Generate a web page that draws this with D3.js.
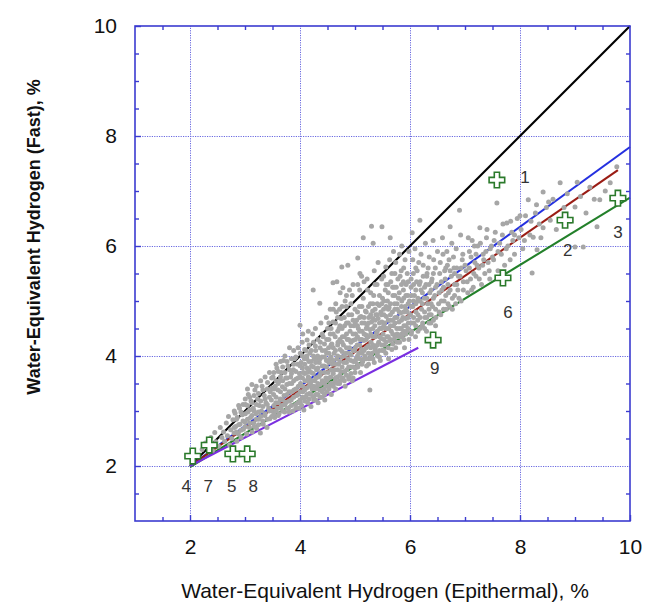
<!doctype html>
<html>
<head>
<meta charset="utf-8">
<script src="https://cdn.jsdelivr.net/npm/d3@7"></script>
<style>
  body { margin: 0; background: #fff; }
  text { font-family: "Liberation Sans", Arial, sans-serif; }
  .frame { fill: none; stroke: #3b3bd0; stroke-width: 1.6; }
  .grid line { stroke: #6a6ae0; stroke-width: 1; stroke-dasharray: 1.2,1.2; }
  .grid path { display: none; }
  .ax path { display: none; }
  .ax line { stroke: #3b3bd0; stroke-width: 1.4; }
  .ax text { font-size: 21px; fill: #111; }
</style>
</head>
<body>
<svg width="655" height="605"></svg>
<script>
// epithermal (x) vs fast (y) water-equivalent hydrogen, %
let majorTicks = [2, 4, 6, 8, 10]
let minorTicks = [1.5, 2.5, 3, 3.5, 4.5, 5, 5.5, 6.5, 7, 7.5, 8.5, 9, 9.5]
let gridTicks = [2, 4, 6, 8]

// grey cloud of measurements: spread / outer points
let cloudOuter = [
  [2.22,2.3],[2.28,2.42],[2.33,2.35],[2.38,2.52],[2.41,2.28],[2.45,2.61],[2.47,2.44],[2.52,2.36],[2.55,2.7],[2.58,2.52],
  [2.61,2.62],[2.63,2.45],[2.66,2.78],[2.68,2.55],[2.7,2.9],[2.72,2.38],[2.74,2.66],[2.76,2.5],[2.78,2.84],[2.8,2.6],
  [2.82,2.96],[2.83,2.72],[2.85,2.45],[2.86,2.88],[2.88,2.58],[2.9,3.05],[2.91,2.76],[2.93,2.52],[2.95,2.93],[2.97,2.67],
  [3.0,2.8],[3.01,3.12],[3.03,2.58],[3.05,2.98],[3.06,3.3],[3.08,2.7],[3.1,2.88],[3.11,3.18],[3.13,2.62],[3.15,3.05],
  [3.16,2.78],[3.18,3.38],[3.2,2.95],[3.21,2.68],[3.23,3.22],[3.25,2.85],[3.26,3.1],[3.28,2.6],[3.3,3.0],[3.31,3.45],
  [3.33,2.76],[3.35,3.28],[3.36,2.92],[3.38,3.15],[3.4,2.7],[3.41,3.52],[3.43,3.05],[3.45,2.86],[3.46,3.35],[3.48,3.2],
  [3.5,3.0],[3.51,3.62],[3.52,3.3],[3.54,2.88],[3.55,3.45],[3.56,3.15],[3.58,3.78],[3.59,3.05],[3.6,3.38],[3.62,2.95],
  [3.63,3.55],[3.64,3.22],[3.66,3.7],[3.67,3.1],[3.68,3.44],[3.7,3.92],[3.71,3.28],[3.72,2.98],[3.74,3.6],[3.75,3.16],
  [3.76,3.48],[3.78,3.82],[3.79,3.05],[3.8,3.35],[3.81,4.15],[3.83,3.62],[3.84,3.2],[3.85,3.5],[3.87,3.0],[3.88,3.75],
  [3.89,3.38],[3.9,3.95],[3.92,3.12],[3.93,3.58],[3.94,3.28],[3.96,3.85],[3.97,3.45],[3.98,3.05],[3.99,3.68],[4.0,3.2],
  [4.0,4.56],[4.01,3.5],[4.02,3.88],[4.03,3.1],[4.04,4.25],[4.05,3.35],[4.06,3.7],[4.07,3.02],[4.08,3.95],[4.09,3.55],
  [4.1,3.25],[4.11,4.1],[4.12,3.42],[4.13,3.78],[4.13,4.29],[4.14,3.15],[4.15,3.62],[4.16,3.9],[4.17,3.32],[4.18,4.05],
  [4.19,3.5],[4.2,3.08],[4.21,3.82],[4.22,3.4],[4.23,4.4],[4.24,3.68],[4.24,5.2],[4.25,3.2],[4.26,3.95],[4.27,3.55],
  [4.28,4.18],[4.29,3.3],[4.3,3.75],[4.31,3.45],[4.32,4.0],[4.33,3.15],[4.34,3.62],[4.35,3.88],[4.36,4.96],[4.36,3.38],
  [4.37,4.25],[4.38,3.7],[4.39,3.25],[4.4,3.98],[4.41,3.52],[4.42,4.35],[4.43,3.4],[4.44,3.82],[4.45,3.2],[4.46,4.1],
  [4.47,3.6],[4.48,3.92],[4.49,3.35],[4.5,4.5],
  [4.51,3.7],[4.52,4.15],[4.53,3.45],[4.54,3.95],[4.55,4.4],[4.56,3.62],[4.57,3.3],[4.58,4.22],[4.59,3.85],[4.6,4.62],
  [4.6,5.33],[4.61,3.5],[4.62,4.05],[4.63,3.75],[4.64,4.35],[4.65,3.4],[4.66,4.8],[4.67,3.95],[4.67,5.35],[4.68,3.62],
  [4.69,4.25],[4.7,3.85],[4.71,4.5],[4.72,3.5],[4.73,4.12],[4.73,5.15],[4.74,3.72],[4.75,4.68],[4.76,5.62],[4.76,3.98],
  [4.77,4.35],[4.78,3.6],[4.78,5.24],[4.79,4.2],[4.8,3.88],[4.81,4.55],[4.82,3.45],[4.83,4.05],[4.84,4.9],[4.85,3.75],
  [4.86,4.3],[4.87,5.65],[4.87,3.95],[4.88,4.6],[4.89,3.62],[4.9,5.2],[4.9,4.15],[4.91,4.45],[4.92,3.8],[4.93,4.02],
  [4.94,4.75],[4.95,3.55],[4.96,4.28],[4.97,3.9],[4.98,4.55],[4.99,4.1],[5.0,3.7],[5.0,4.85],
  [5.01,4.4],[5.02,3.95],[5.03,4.65],[5.04,4.2],[5.05,5.78],[5.05,3.8],[5.06,4.5],[5.07,4.05],[5.08,4.9],[5.09,5.5],
  [5.09,4.3],[5.1,3.7],[5.11,4.72],[5.12,4.12],[5.13,4.45],[5.14,3.9],[5.15,6.15],[5.15,5.05],[5.16,4.28],[5.17,4.6],
  [5.18,4.0],[5.19,4.82],[5.2,4.38],[5.21,3.82],[5.22,4.55],[5.23,5.2],[5.24,4.18],[5.25,4.7],[5.26,3.95],[5.27,3.38],
  [5.27,4.48],[5.28,4.95],[5.29,4.25],[5.3,6.36],[5.3,4.62],[5.31,4.05],[5.32,4.82],[5.33,6.05],[5.33,4.35],[5.34,5.1],
  [5.35,3.88],[5.36,4.55],[5.37,4.15],[5.38,4.75],[5.39,4.42],[5.4,5.3],[5.41,4.0],[5.42,4.68],[5.43,4.25],[5.44,4.92],
  [5.45,4.5],[5.46,3.92],[5.47,4.8],[5.48,4.32],[5.49,6.35],[5.49,4.62],[5.5,4.1],[5.5,5.05],
  [5.51,4.4],[5.52,4.85],[5.53,4.2],[5.54,4.6],[5.55,5.2],[5.56,4.05],[5.57,4.72],[5.58,4.35],[5.59,5.0],[5.6,4.5],
  [5.61,3.95],[5.62,4.88],[5.63,4.28],[5.64,6.15],[5.64,4.65],[5.65,5.35],[5.66,4.45],[5.67,4.12],[5.68,4.8],[5.69,5.1],
  [5.7,4.55],[5.7,5.9],[5.71,4.3],[5.72,4.95],[5.73,4.7],[5.74,4.15],[5.75,5.25],[5.76,4.5],[5.77,4.85],[5.78,4.38],
  [5.79,5.05],[5.8,4.62],[5.81,4.25],[5.82,5.45],[5.83,4.78],[5.84,4.5],[5.85,6.0],[5.85,5.0],[5.86,4.35],[5.87,4.7],
  [5.88,5.2],[5.89,4.55],[5.9,4.15],[5.91,4.9],[5.92,4.68],[5.93,5.3],[5.94,4.45],[5.95,4.8],[5.96,5.1],[5.97,4.6],
  [5.98,4.3],[5.99,5.0],
  [6.01,4.75],[6.02,5.25],[6.03,4.45],[6.04,6.24],[6.05,4.9],[6.06,5.5],[6.07,4.6],[6.08,5.1],[6.1,4.35],[6.11,4.8],
  [6.12,5.35],[6.14,4.65],[6.15,5.0],[6.16,5.7],[6.18,6.47],[6.18,4.5],[6.2,5.2],[6.21,4.85],[6.23,4.6],[6.24,5.45],
  [6.26,5.05],[6.27,4.7],[6.29,5.3],[6.3,4.45],[6.32,4.95],[6.33,5.6],[6.35,4.75],[6.36,5.15],[6.38,4.6],[6.4,5.4],
  [6.41,4.9],[6.43,5.75],[6.45,5.1],[6.47,4.7],[6.49,5.3],
  [6.52,4.95],[6.54,5.5],[6.56,4.75],[6.58,5.2],[6.6,5.85],[6.62,5.0],[6.64,5.4],[6.66,4.85],[6.68,5.65],[6.7,5.15],
  [6.72,4.9],[6.73,6.35],[6.75,5.45],[6.77,5.05],[6.79,5.8],[6.81,5.3],[6.83,4.95],[6.85,5.6],[6.87,5.2],[6.9,6.65],
  [6.91,5.45],[6.93,5.0],[6.95,5.75],[6.97,5.35],
  [7.02,5.55],[7.05,5.15],[7.08,5.9],[7.1,5.4],[7.13,6.1],[7.15,5.25],[7.18,5.7],[7.2,5.45],[7.23,6.0],[7.25,5.6],
  [7.27,6.33],[7.3,5.3],[7.33,5.85],[7.36,5.5],[7.39,6.15],[7.42,5.7],[7.45,5.4],[7.48,6.0],
  [7.52,5.75],[7.55,6.25],[7.58,6.78],[7.6,5.55],[7.63,6.05],[7.66,5.85],[7.69,6.4],[7.72,5.65],[7.76,6.42],[7.78,6.0],
  [7.82,5.75],[7.85,6.25],[7.87,6.1],[7.9,5.85],[7.95,6.5],[7.98,6.15],
  [8.02,6.3],[8.05,5.95],[8.1,6.55],[8.15,6.84],[8.18,6.2],[8.22,5.51],[8.24,6.16],[8.28,6.6],[8.31,5.93],[8.35,6.4],
  [8.42,6.98],[8.42,6.33],[8.48,6.7],
  [8.55,6.47],[8.6,6.85],[8.66,6.3],[8.73,7.15],[8.8,6.7],[8.86,6.95],[8.92,6.45],[9.0,6.71],[9.0,5.98],[9.04,7.16],
  [9.1,6.9],[9.15,5.98],[9.2,6.6],[9.27,7.07],[9.35,6.85],[9.4,6.35],[9.45,6.84],[9.55,7.0],[9.64,7.15],[9.76,7.44]
]

// dense core of the cloud
let cloudCore = [
  [2.805,2.7],[2.805,3.0],[2.845,2.62],[2.845,2.85],[2.885,2.75],[2.885,3.1],[2.925,2.65],[2.925,2.98],[2.965,2.82],[2.965,3.12],
  [3.005,2.72],[3.005,2.95],[3.005,3.22],[3.045,2.85],[3.045,3.1],[3.045,3.4],[3.085,2.78],[3.085,3.02],[3.085,3.25],
  [3.125,2.92],[3.125,3.15],[3.125,3.48],[3.165,2.72],[3.165,3.0],[3.165,3.28],[3.205,2.85],[3.205,3.12],[3.205,3.45],
  [3.245,2.75],[3.245,2.98],[3.245,3.32],[3.285,2.9],[3.285,3.18],[3.285,3.55],[3.325,2.82],[3.325,3.08],[3.325,3.38],
  [3.365,2.95],[3.365,3.22],[3.365,3.62],[3.405,2.85],[3.405,3.12],[3.405,3.4],[3.445,3.0],[3.445,3.25],[3.445,3.7],
  [3.485,2.9],[3.485,3.42],[3.485,3.6],
  [3.525,3.1],[3.525,3.4],[3.525,3.7],[3.525,2.95],[3.565,3.25],[3.565,3.55],[3.565,3.0],[3.565,3.85],
  [3.605,3.15],[3.605,3.5],[3.605,3.72],[3.605,2.92],[3.645,3.35],[3.645,3.62],[3.645,3.05],[3.645,3.9],
  [3.685,3.2],[3.685,3.55],[3.685,3.8],[3.685,3.0],[3.725,3.4],[3.725,3.7],[3.725,3.12],[3.725,4.0],
  [3.765,3.3],[3.765,3.6],[3.765,3.05],[3.765,3.9],[3.805,3.5],[3.805,3.75],[3.805,3.18],[3.805,2.98],
  [3.845,3.35],[3.845,3.68],[3.845,3.95],[3.845,3.1],[3.885,3.55],[3.885,3.25],[3.885,3.85],[3.885,4.1],
  [3.925,3.4],[3.925,3.72],[3.925,3.05],[3.925,3.98],[3.965,3.6],[3.965,3.3],[3.965,3.15],[3.965,4.15],
  [4.005,3.35],[4.005,3.62],[4.005,3.82],[4.005,4.05],[4.005,3.15],[4.045,3.45],[4.045,3.78],[4.045,3.25],[4.045,4.0],[4.045,3.6],
  [4.085,3.38],[4.085,3.68],[4.085,3.85],[4.085,4.12],[4.085,3.18],[4.125,3.55],[4.125,3.3],[4.125,3.95],[4.125,4.0],[4.125,3.7],
  [4.165,3.45],[4.165,3.75],[4.165,3.22],[4.165,4.2],[4.165,3.6],[4.205,3.55],[4.205,3.9],[4.205,3.3],[4.205,4.1],[4.205,3.7],
  [4.245,3.45],[4.245,3.8],[4.245,3.25],[4.245,4.25],[4.245,4.0],[4.285,3.6],[4.285,3.88],[4.285,3.4],[4.285,4.1],[4.285,3.2],
  [4.325,3.5],[4.325,3.78],[4.325,3.3],[4.325,4.3],[4.325,3.95],[4.365,3.65],[4.365,3.95],[4.365,3.48],[4.365,4.15],[4.365,3.25],
  [4.405,3.55],[4.405,3.82],[4.405,3.35],[4.405,4.4],[4.405,4.1],[4.445,3.7],[4.445,3.98],[4.445,3.5],[4.445,4.22],[4.445,3.3],
  [4.485,3.55],[4.485,3.8],[4.485,4.05],[4.485,4.3],[4.485,3.45],
  [4.525,3.6],[4.525,3.88],[4.525,4.05],[4.525,4.3],[4.525,3.4],[4.525,4.6],[4.565,3.75],[4.565,3.98],[4.565,4.2],[4.565,3.5],[4.565,4.5],
  [4.605,3.68],[4.605,3.92],[4.605,4.15],[4.605,4.4],[4.605,3.45],[4.605,4.85],[4.645,3.6],[4.645,3.85],[4.645,4.1],[4.645,4.6],[4.645,3.55],
  [4.685,3.75],[4.685,4.0],[4.685,4.2],[4.685,4.45],[4.685,3.5],[4.685,4.7],[4.725,3.65],[4.725,3.9],[4.725,4.3],[4.725,4.55],[4.725,3.55],
  [4.765,3.8],[4.765,4.08],[4.765,4.25],[4.765,4.5],[4.765,3.58],[4.765,4.9],[4.805,3.72],[4.805,4.0],[4.805,4.35],[4.805,4.7],[4.805,3.55],
  [4.845,3.88],[4.845,4.15],[4.845,4.4],[4.845,3.65],[4.845,4.6],[4.845,5.1],[4.885,3.8],[4.885,4.05],[4.885,4.3],[4.885,4.75],[4.885,3.58],
  [4.925,3.92],[4.925,4.25],[4.925,4.55],[4.925,3.68],[4.925,4.95],[4.965,3.8],[4.965,4.1],[4.965,4.4],[4.965,4.65],[4.965,3.6],[4.965,5.3],
  [5.005,3.9],[5.005,4.15],[5.005,4.6],[5.005,4.3],[5.005,3.78],[5.045,4.0],[5.045,4.35],[5.045,4.55],[5.045,4.8],[5.045,3.85],
  [5.085,3.95],[5.085,4.2],[5.085,4.45],[5.085,4.7],[5.085,5.2],[5.125,4.05],[5.125,4.3],[5.125,4.6],[5.125,3.85],[5.125,4.9],
  [5.165,4.1],[5.165,4.4],[5.165,4.7],[5.165,3.95],[5.165,5.35],[5.205,4.15],[5.205,4.5],[5.205,4.8],[5.205,3.95],[5.205,4.3],
  [5.245,4.05],[5.245,4.35],[5.245,4.6],[5.245,4.9],[5.245,3.85],[5.285,4.15],[5.285,4.4],[5.285,4.75],[5.285,4.0],[5.285,5.15],
  [5.325,4.2],[5.325,4.5],[5.325,4.68],[5.325,3.95],[5.325,4.95],[5.365,4.1],[5.365,4.35],[5.365,4.65],[5.365,4.85],[5.365,5.3],
  [5.405,4.2],[5.405,4.45],[5.405,4.75],[5.405,4.05],[5.405,4.95],[5.445,4.1],[5.445,4.35],[5.445,4.6],[5.445,5.1],[5.445,3.98],
  [5.485,4.2],[5.485,4.5],[5.485,4.75],[5.485,4.95],[5.485,5.4],
  [5.525,4.3],[5.525,4.55],[5.525,4.75],[5.525,5.0],[5.525,4.1],[5.565,4.25],[5.565,4.5],[5.565,4.9],[5.565,5.3],
  [5.605,4.35],[5.605,4.65],[5.605,4.85],[5.605,4.15],[5.605,5.15],[5.645,4.3],[5.645,4.55],[5.645,4.95],[5.645,4.75],
  [5.685,4.4],[5.685,4.65],[5.685,4.22],[5.685,5.25],[5.725,4.35],[5.725,4.6],[5.725,4.85],[5.725,5.1],[5.725,5.5],
  [5.765,4.4],[5.765,4.7],[5.765,4.95],[5.765,4.25],[5.805,4.5],[5.805,4.8],[5.805,5.15],[5.805,4.35],
  [5.845,4.4],[5.845,4.65],[5.845,4.9],[5.845,5.3],[5.885,4.45],[5.885,4.8],[5.885,5.05],[5.885,4.3],[5.885,5.6],
  [5.925,4.55],[5.925,4.85],[5.925,5.1],[5.925,4.4],[5.965,4.5],[5.965,4.7],[5.965,4.95],[5.965,5.35],
  [6.025,4.6],[6.025,4.9],[6.025,5.1],[6.025,4.4],[6.065,4.7],[6.065,5.0],[6.065,5.3],[6.105,4.55],[6.105,4.95],[6.105,5.2],[6.105,5.6],
  [6.145,4.75],[6.145,5.05],[6.145,4.45],[6.185,4.7],[6.185,5.0],[6.185,5.35],[6.225,4.55],[6.225,4.95],[6.225,5.15],
  [6.265,4.8],[6.265,5.25],[6.265,4.5],[6.305,4.7],[6.305,5.05],[6.305,5.45],[6.345,4.85],[6.345,5.3],[6.345,4.6],
  [6.385,4.95],[6.385,5.2],[6.385,4.75],[6.425,4.65],[6.425,5.05],[6.425,5.5],[6.465,4.85],[6.465,5.25],[6.465,4.55],
  [6.53,4.8],[6.53,5.15],[6.57,5.0],[6.57,5.35],[6.61,4.85],[6.61,5.25],[6.65,5.1],[6.65,5.6],[6.69,4.95],[6.69,5.3],
  [6.73,5.2],[6.73,5.55],[6.77,4.85],[6.81,5.1],[6.81,5.5],[6.85,5.3],[6.89,5.05],[6.93,5.6],[6.97,5.2],
  [7.04,5.35],[7.08,5.6],[7.12,5.2],[7.16,5.5],[7.2,5.85],[7.26,5.4],[7.32,5.65],[7.38,5.9],[7.44,5.55],[7.5,5.8]
]

// upper side of the cloud, near the 1:1 line and above the blue fit
let cloudUpper = [
  [4.05,4.4],[4.15,4.45],[4.28,4.5],[4.38,4.6],[4.48,4.7],[4.55,4.85],[4.65,4.95],[4.72,4.85],[4.82,5.0],[4.95,5.1],
  [5.05,5.3],[5.12,5.45],[5.22,5.4],[5.35,5.55],[5.42,5.7],
  [5.52,5.45],[5.56,5.62],[5.6,5.3],[5.63,5.75],[5.67,5.5],[5.71,5.25],[5.74,5.7],[5.78,5.4],[5.81,5.85],[5.84,5.55],
  [5.88,5.35],[5.91,5.75],[5.95,5.5],[5.98,5.9],[6.02,5.4],[6.05,5.75],[6.09,5.95],[6.13,5.55],[6.17,5.3],[6.2,5.85],
  [6.24,5.65],[6.28,6.05],[6.31,5.5],[6.35,5.8],[6.39,5.35],[6.42,6.1],[6.46,5.6],[6.5,5.9],[6.55,5.7],[6.59,6.15],
  [6.63,5.55],[6.67,5.9],[6.71,5.75],[6.76,6.05],[6.8,5.6],[6.84,5.95],[6.88,5.45],[6.92,6.2],[6.96,5.85],[7.0,5.65],
  [7.06,6.15],[7.11,5.8],[7.17,6.0],[7.22,5.65],[7.28,6.05],[7.34,5.75],[7.4,6.3],[7.46,5.95],[7.53,6.1],[7.6,5.9],
  [7.68,6.2],[7.75,5.95],[7.83,6.45],[7.9,6.2],[8.0,6.55],[8.08,6.1],[8.2,6.45],[8.3,6.75],[8.38,6.15],[8.52,6.8]
]

// fitted lines, as end points
let fitNames = ["one-to-one", "blue", "red", "green", "purple"]
let fitColors = ["#000000", "#2430e0", "#9a1c14", "#23802a", "#7a2ee0"]
let fitEnds = [
  [[2, 2], [10, 10]],
  [[2, 2], [10, 7.8]],
  [[2, 2], [9.78, 7.38]],
  [[2, 1.98], [10, 6.88]],
  [[2, 2], [6.15, 4.15]]
]

// numbered sites (green crosses) and their label positions
let siteIds = ["1", "2", "3", "6", "9", "4", "7", "5", "8"]
let siteX = [7.58, 8.82, 9.78, 7.69, 6.42, 2.05, 2.35, 2.78, 3.04]
let siteY = [7.2, 6.47, 6.87, 5.42, 4.29, 2.18, 2.38, 2.22, 2.22]
let labelX = [8.09, 8.87, 9.78, 7.78, 6.45, 1.93, 2.33, 2.76, 3.15]
let labelY = [7.24, 5.91, 6.24, 4.8, 3.78, 1.62, 1.62, 1.62, 1.62]

let svg = d3.select("svg")
let x = d3.scaleLinear().domain([1, 10]).range([135, 630])
let y = d3.scaleLinear().domain([1, 10]).range([521, 26])
let pLeft = 135, pRight = 630, pTop = 26, pBottom = 521

// grid
svg.append("g").attr("class", "grid")
    .attr("transform", `translate(0,${pBottom})`)
    .call(d3.axisBottom(x).tickValues(gridTicks).tickSize(-(pBottom - pTop)).tickFormat(""))
svg.append("g").attr("class", "grid")
    .attr("transform", `translate(${pLeft},0)`)
    .call(d3.axisLeft(y).tickValues(gridTicks).tickSize(-(pRight - pLeft)).tickFormat(""))

// fit lines under the cloud
let line = d3.line().x(d => x(d[0])).y(d => y(d[1]))
svg.append("g").selectAll("path")
  .data(fitEnds)
  .enter().append("path")
    .attr("d", line)
    .attr("fill", "none")
    .attr("stroke", (d, i) => fitColors[i])
    .attr("stroke-width", 2.1)

svg.append("g").selectAll("circle")
  .data(cloudOuter.concat(cloudCore, cloudUpper))
  .enter().append("circle")
    .attr("cx", d => x(d[0]))
    .attr("cy", d => y(d[1]))
    .attr("r", 2.5)
    .attr("fill", "#a6a6a6")

// sites
let cross = d3.symbol().type(d3.symbolCross).size(135)
svg.append("g").selectAll("path")
  .data(siteIds)
  .enter().append("path")
    .attr("d", cross)
    .attr("transform", (d, i) => `translate(${x(siteX[i])},${y(siteY[i])})`)
    .attr("fill", "#fff")
    .attr("stroke", "#2b7a2b")
    .attr("stroke-width", 1.6)

svg.append("g").selectAll("text")
  .data(siteIds)
  .enter().append("text")
    .attr("x", (d, i) => x(labelX[i]))
    .attr("y", (d, i) => y(labelY[i]))
    .attr("text-anchor", "middle")
    .attr("dominant-baseline", "central")
    .attr("font-size", 17)
    .attr("fill", "#333")
    .text(d => d)

// axes: ticks inward on all four sides
function ticks(axis, vals, len) {
  return axis.tickValues(vals).tickSizeInner(-len).tickSizeOuter(0).tickFormat("")
}
svg.append("g").attr("class", "ax").attr("transform", `translate(0,${pBottom})`)
    .call(ticks(d3.axisBottom(x), minorTicks, 4))
svg.append("g").attr("class", "ax").attr("transform", `translate(0,${pTop})`)
    .call(ticks(d3.axisTop(x), minorTicks, 4))
svg.append("g").attr("class", "ax").attr("transform", `translate(${pLeft},0)`)
    .call(ticks(d3.axisLeft(y), minorTicks, 4))
svg.append("g").attr("class", "ax").attr("transform", `translate(${pRight},0)`)
    .call(ticks(d3.axisRight(y), minorTicks, 4))

svg.append("g").attr("class", "ax").attr("transform", `translate(0,${pBottom})`)
    .call(d3.axisBottom(x).tickValues(majorTicks).tickSizeInner(-6).tickSizeOuter(0).tickPadding(18))
svg.append("g").attr("class", "ax").attr("transform", `translate(${pLeft},0)`)
    .call(d3.axisLeft(y).tickValues(majorTicks).tickSizeInner(-6).tickSizeOuter(0).tickPadding(18))

svg.append("rect").attr("class", "frame")
    .attr("x", pLeft).attr("y", pTop)
    .attr("width", pRight - pLeft).attr("height", pBottom - pTop)

// titles
svg.append("text")
    .attr("x", 385).attr("y", 598)
    .attr("text-anchor", "middle")
    .attr("font-size", 21)
    .attr("fill", "#111")
    .text("Water-Equivalent Hydrogen (Epithermal), %")

svg.append("text")
    .attr("transform", "translate(40,237) rotate(-90)")
    .attr("text-anchor", "middle")
    .attr("font-size", 18)
    .attr("font-weight", "bold")
    .attr("fill", "#111")
    .text("Water-Equivalent Hydrogen (Fast), %")
</script>
</body>
</html>
